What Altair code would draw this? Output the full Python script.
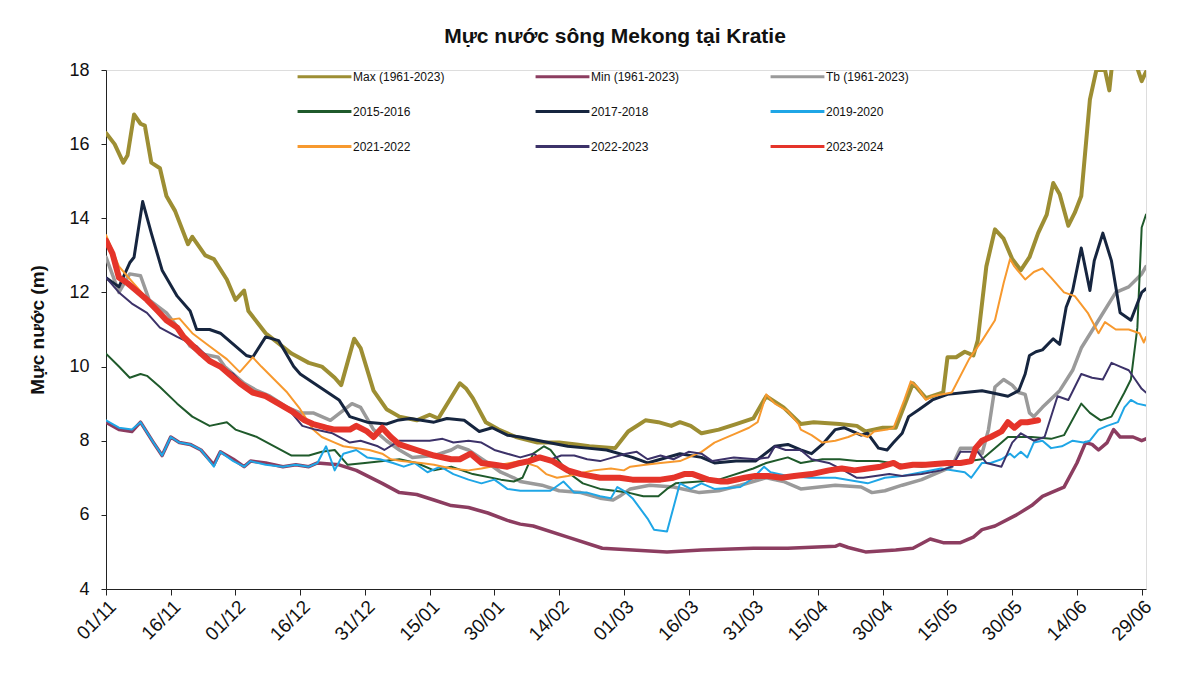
import altair as alt
import pandas as pd

# ---------------- data ----------------
# x = days since 01/11, y = water level (m)
SERIES = ["Max (1961-2023)", "Min (1961-2023)", "Tb (1961-2023)",
          "2015-2016", "2017-2018", "2019-2020",
          "2021-2022", "2022-2023", "2023-2024"]
COLORS = ["#9D8E33", "#8C3D60", "#9A9A9A",
          "#1F5A2B", "#16253F", "#1FA6E6",
          "#F7992E", "#3C3269", "#E5342A"]
WIDTHS = [4, 3.5, 3.5, 2, 3, 2, 2, 2, 6]

TICK_DAYS = [0, 15, 30, 45, 60, 75, 90, 105, 120, 135, 150, 165, 180, 195, 210, 225, 240]
TICK_LABELS = ["01/11", "16/11", "01/12", "16/12", "31/12", "15/01", "30/01", "14/02",
               "01/03", "16/03", "31/03", "15/04", "30/04", "15/05", "30/05", "14/06", "29/06"]

MAX_D = [0, 2, 4, 5, 6.5, 8, 9, 10.5, 12.5, 14, 16, 19, 20, 23, 25, 28, 30, 32, 33, 37, 43, 47, 50,
         53, 54.5, 57.5, 59, 62, 65, 68, 72, 75, 77, 82, 83.5, 85, 88, 91, 95, 100, 105, 109, 112,
         118, 121, 125, 128, 131, 133, 135.5, 138, 142, 146, 150, 153, 157, 161, 164, 170, 174,
         176, 180, 183, 187, 190, 194, 195, 197, 199, 201, 202, 204, 206, 208, 210, 212, 214,
         216, 218, 219.5, 221, 223, 224.5, 226, 228, 229.5, 231.5, 232.5, 233, 234, 238, 240, 241]
MAX_V = [16.3, 16.0, 15.5, 15.7, 16.8, 16.55, 16.5, 15.5, 15.35, 14.6, 14.2, 13.3, 13.5, 13.0,
         12.9, 12.35, 11.8, 12.05, 11.5, 10.9, 10.35, 10.1, 10.0, 9.7, 9.5, 10.75, 10.5, 9.35,
         8.85, 8.65, 8.55, 8.7, 8.6, 9.55, 9.4, 9.15, 8.5, 8.3, 8.1, 7.95, 7.95, 7.9, 7.85, 7.8,
         8.25, 8.55, 8.5, 8.4, 8.5, 8.4, 8.2, 8.3, 8.45, 8.6, 9.2, 8.9, 8.45, 8.5, 8.45, 8.4,
         8.25, 8.35, 8.35, 9.55, 9.15, 9.3, 10.25, 10.25, 10.4, 10.3, 10.7, 12.7, 13.7, 13.45,
         12.9, 12.6, 12.95, 13.6, 14.1, 14.95, 14.65, 13.8, 14.15, 14.6, 17.2, 18.0, 18.0, 17.45,
         18.0, 18.6, 18.4, 17.7, 17.95]

MIN_D = [0, 3, 6, 8, 11, 13, 15, 17, 19.5, 22, 25, 26.5, 29.5, 32, 33.5, 37, 41, 44, 47, 49, 54,
         58, 64, 68, 72, 76, 80, 84, 88.5, 93, 96, 99, 107, 115, 122, 130, 138, 150, 158, 169,
         170, 172, 176, 183, 187, 191, 194, 198, 201, 203, 206, 211, 214.5, 217, 219, 222, 225,
         227, 228.5, 230, 232, 233.5, 235, 238, 240, 241]
MIN_V = [8.5, 8.3, 8.25, 8.5, 7.95, 7.6, 8.1, 7.95, 7.9, 7.75, 7.35, 7.7, 7.5, 7.3, 7.45, 7.4,
         7.3, 7.35, 7.3, 7.4, 7.35, 7.2, 6.85, 6.6, 6.55, 6.4, 6.25, 6.2, 6.05, 5.85, 5.75, 5.7,
         5.4, 5.1, 5.05, 5.0, 5.05, 5.1, 5.1, 5.15, 5.2, 5.12, 5.0, 5.05, 5.1, 5.35, 5.25, 5.25,
         5.4, 5.6, 5.7, 6.0, 6.25, 6.5, 6.6, 6.75, 7.4, 7.95, 7.9, 7.75, 7.95, 8.3, 8.1, 8.1,
         8.0, 8.05]

TB_D = [0, 3, 5.5, 8, 10, 14, 17, 19.5, 22, 26, 27.5, 29.5, 32, 35, 38, 42, 45, 48, 52, 57, 59,
        62, 65, 68, 71, 76, 80, 81.5, 84, 88.5, 91.5, 94.5, 96, 101, 105, 110, 114.5, 117.5, 119,
        121.5, 126, 131.5, 137.5, 142, 147, 150, 153, 157, 161, 169, 175, 177.5, 180.5, 184.5,
        189, 194, 196, 198, 201.5, 203, 204.5, 206, 208, 210, 211.5, 213, 214, 215, 217, 221,
        224, 226, 230, 234, 237, 240, 241]
TB_V = [12.95, 12.0, 12.5, 12.45, 11.8, 11.45, 11.0, 10.55, 10.35, 10.25, 10.0, 9.8, 9.55, 9.35,
        9.2, 8.9, 8.75, 8.75, 8.55, 9.0, 8.9, 8.3, 8.0, 7.75, 7.55, 7.6, 7.75, 7.85, 7.75, 7.4,
        7.15, 7.0, 6.9, 6.8, 6.65, 6.6, 6.45, 6.4, 6.5, 6.7, 6.8, 6.75, 6.6, 6.65, 6.8, 6.9, 7.0,
        6.9, 6.7, 6.8, 6.75, 6.6, 6.65, 6.8, 6.95, 7.2, 7.3, 7.8, 7.8, 7.65, 8.3, 9.45, 9.65,
        9.5, 9.3, 9.25, 8.75, 8.65, 8.9, 9.35, 9.9, 10.5, 11.25, 12.0, 12.15, 12.5, 12.7]

Y1516_D = [0, 3, 5.5, 8, 9.5, 12.5, 16.5, 20, 24, 28, 30, 35, 39, 43, 47, 50, 53, 56, 60, 68, 72,
           76, 80, 85, 91.5, 94.5, 96.5, 99, 101.5, 103, 107, 110.5, 114.5, 121, 124.5, 128, 130,
           132, 137.5, 142, 150, 153, 158, 161, 166, 170, 174, 179, 184.5, 189, 195, 200, 203,
           207, 209, 214.5, 219, 222, 226, 228, 230.5, 233, 236, 237.5, 239, 240, 241]
Y1516_V = [10.35, 10.0, 9.7, 9.8, 9.75, 9.45, 9.0, 8.65, 8.4, 8.5, 8.3, 8.1, 7.85, 7.6, 7.6, 7.7,
           7.75, 7.35, 7.4, 7.5, 7.4, 7.2, 7.3, 7.1, 6.95, 6.9, 7.0, 7.65, 7.85, 7.75, 7.15, 6.85,
           6.7, 6.6, 6.5, 6.5, 6.7, 6.85, 6.9, 6.95, 7.25, 7.4, 7.55, 7.4, 7.5, 7.5, 7.45, 7.45,
           7.35, 7.3, 7.4, 7.45, 7.5, 7.9, 8.1, 8.1, 8.05, 8.15, 9.0, 8.75, 8.55, 8.65, 9.3, 9.65,
           11.05, 13.75, 14.1]

Y1718_D = [0, 3, 5.5, 6.5, 8.5, 10.5, 13, 16.5, 19.5, 21, 24, 26.5, 32.5, 34, 37, 40, 43.5, 45,
           49.5, 54, 56.5, 60.5, 65, 67.5, 70.5, 76, 79, 83, 86.5, 89.5, 93, 96, 107, 111.5, 116,
           122, 125.5, 133, 138, 141, 146, 150.5, 155, 158, 161, 163.5, 166, 169, 171, 175, 176.5,
           179, 181, 182.5, 184.5, 186, 188.5, 191.5, 195, 199, 203, 205, 209, 211.5, 213, 214,
           215.5, 217, 219.5, 221, 222.5, 224, 226, 228, 229, 231, 233, 235, 237.5, 239, 240, 241]
Y1718_V = [12.4, 12.15, 12.8, 12.95, 14.45, 13.6, 12.6, 11.9, 11.5, 11.0, 11.0, 10.9, 10.3, 10.25,
           10.8, 10.7, 10.0, 9.8, 9.45, 9.1, 8.65, 8.5, 8.45, 8.55, 8.6, 8.5, 8.6, 8.55, 8.25,
           8.35, 8.15, 8.1, 7.85, 7.8, 7.75, 7.55, 7.4, 7.65, 7.55, 7.4, 7.45, 7.45, 7.85, 7.9,
           7.75, 7.65, 7.9, 8.3, 8.35, 8.15, 8.2, 7.8, 7.75, 7.95, 8.2, 8.65, 8.85, 9.1, 9.25, 9.3,
           9.35, 9.3, 9.2, 9.35, 9.8, 10.3, 10.4, 10.45, 10.75, 10.6, 11.6, 12.05, 13.2, 12.05,
           12.85, 13.6, 12.85, 11.45, 11.25, 11.7, 12.0, 12.1]

Y1920_D = [0, 3, 6, 8, 11, 13, 15, 17, 19.5, 22, 25, 26.5, 29.5, 32, 33.5, 37, 41, 44, 47, 49, 51,
           53, 55, 58, 60.5, 63.5, 66.5, 69, 71.5, 74.5, 77.5, 80.5, 84, 87, 90, 93, 96, 99, 103,
           106, 108.5, 111.5, 114.5, 117, 118.5, 120, 122, 125.5, 127, 130, 131.5, 133, 135.5,
           138, 141, 147, 150, 152.5, 154, 158, 163, 169, 176.5, 180.5, 184.5, 189, 193.5, 199,
           200.5, 203, 205, 207.5, 209.5, 210.5, 212, 213.5, 215, 217, 219, 221.5, 224, 226.5,
           228, 230, 232, 234.5, 236, 237.5, 239, 241]
Y1920_V = [8.55, 8.35, 8.3, 8.5, 7.95, 7.6, 8.1, 7.95, 7.9, 7.75, 7.3, 7.7, 7.45, 7.3, 7.45, 7.35,
           7.3, 7.35, 7.3, 7.4, 7.85, 7.2, 7.65, 7.75, 7.55, 7.5, 7.4, 7.3, 7.4, 7.15, 7.3, 7.1,
           6.95, 6.85, 6.95, 6.7, 6.65, 6.65, 6.65, 6.9, 6.6, 6.6, 6.5, 6.45, 6.75, 6.65, 6.45,
           5.9, 5.6, 5.55, 6.2, 6.85, 6.7, 6.85, 6.7, 6.75, 7.0, 7.3, 7.15, 7.05, 7.0, 7.0, 6.85,
           7.0, 7.05, 7.15, 7.25, 7.15, 7.0, 7.4, 7.4, 7.5, 7.65, 7.55, 7.7, 7.55, 7.95, 8.0, 7.8,
           7.85, 8.0, 7.95, 8.0, 8.3, 8.4, 8.5, 8.9, 9.1, 9.0, 8.95]

Y2122_D = [0, 3, 6, 9, 12, 14, 17, 20, 24, 28, 31, 34, 36, 39, 42, 45, 48, 50, 53, 55, 61, 64, 66,
           68.5, 73, 76, 80, 84, 87, 91.5, 96, 100, 102, 104.5, 107, 113, 117, 120, 121.5, 125,
           128.5, 133, 138, 141, 143, 146, 149, 151, 153, 155, 158, 160.5, 161, 163.5, 166, 169,
           172, 174, 176.5, 178, 181, 182.5, 185, 186.5, 188, 190, 191.5, 196, 200, 203, 206, 208,
           209.5, 210.5, 213, 215, 217, 219, 222, 224.5, 227.5, 230, 231.5, 234, 237, 239.5,
           240.5, 241]
Y2122_V = [13.55, 12.7, 12.3, 11.9, 11.5, 11.25, 11.3, 10.9, 10.55, 10.2, 9.85, 10.25, 10.0, 9.65,
           9.3, 8.85, 8.3, 8.1, 7.95, 7.85, 7.75, 7.65, 7.5, 7.45, 7.4, 7.35, 7.25, 7.2, 7.25,
           7.35, 7.45, 7.3, 7.1, 7.0, 7.05, 7.2, 7.25, 7.2, 7.3, 7.35, 7.4, 7.45, 7.7, 7.95, 8.05,
           8.2, 8.35, 8.5, 9.25, 9.0, 8.8, 8.45, 8.3, 8.15, 7.95, 8.0, 8.1, 8.2, 8.1, 8.25, 8.3,
           8.35, 9.1, 9.6, 9.45, 9.1, 9.2, 9.3, 10.2, 10.7, 11.25, 12.25, 12.9, 12.7, 12.35,
           12.55, 12.65, 12.4, 12.0, 11.9, 11.45, 10.9, 11.2, 11.0, 11.0, 10.9, 10.65, 10.8]

Y2223_D = [0, 3, 6, 9.5, 12.5, 16.5, 21, 25, 29.5, 33.5, 37, 40, 43, 45.5, 48.5, 52.5, 56.5, 59,
           63, 64.5, 68, 75, 78, 80.5, 84, 87, 90, 93, 96, 99, 102, 105.5, 108.5, 111.5, 114.5,
           117.5, 120.5, 123, 125.5, 128.5, 131.5, 135, 138, 140.5, 145.5, 150.5, 153.5, 155,
           157.5, 161, 163.5, 167.5, 171, 174, 175.5, 181.5, 184.5, 189, 193.5, 196, 198, 202,
           204, 207.5, 210, 212, 215, 217.5, 220.5, 223, 226, 228.5, 231, 233, 235, 237, 238.5,
           240, 241]
Y2223_V = [12.4, 12.0, 11.7, 11.45, 11.05, 10.8, 10.55, 10.1, 9.8, 9.3, 9.2, 9.0, 8.75, 8.4, 8.3,
           8.2, 7.95, 8.0, 7.85, 7.75, 8.0, 8.0, 8.05, 7.95, 8.0, 7.95, 7.75, 7.65, 7.55, 7.65,
           7.45, 7.6, 7.6, 7.5, 7.45, 7.55, 7.65, 7.7, 7.5, 7.6, 7.5, 7.7, 7.65, 7.45, 7.55, 7.5,
           7.55, 7.85, 7.75, 7.75, 7.5, 7.4, 7.2, 7.0, 7.0, 7.1, 7.05, 7.1, 7.2, 7.3, 7.7, 7.7,
           7.4, 7.3, 7.95, 8.2, 8.0, 8.1, 9.2, 9.1, 9.8, 9.7, 9.65, 10.1, 10.0, 9.9, 9.65, 9.4, 9.3]

Y2324_D = [0, 1.5, 3, 5, 7, 9.5, 12, 14, 16.5, 18, 22, 24, 26.5, 31, 34, 37, 40, 43, 46, 48, 51,
           53, 56.5, 58, 60.5, 62, 64, 66, 68, 72, 76, 80, 82, 84.5, 87, 90, 93, 96, 98, 100.5,
           103.5, 107, 110, 114.5, 119, 122, 128.5, 131.5, 134, 136, 139.5, 142.5, 144, 148,
           150.5, 153.5, 156.5, 159.5, 163.5, 167.5, 170.5, 173.5, 176.5, 179.5, 182.5, 184, 187,
           190, 195, 198, 200.5, 201.5, 203, 205, 207.5, 209, 210.5, 212, 213.5, 216]
Y2324_V = [13.4, 13.05, 12.4, 12.25, 12.05, 11.8, 11.5, 11.25, 11.05, 10.8, 10.35, 10.15, 10.0,
           9.55, 9.3, 9.2, 9.0, 8.8, 8.55, 8.45, 8.35, 8.3, 8.3, 8.4, 8.25, 8.1, 8.35, 8.1, 7.9,
           7.75, 7.6, 7.5, 7.5, 7.65, 7.4, 7.35, 7.3, 7.4, 7.45, 7.55, 7.45, 7.2, 7.1, 7.0, 7.0,
           6.95, 6.95, 7.0, 7.1, 7.1, 6.95, 6.9, 6.9, 7.0, 7.05, 7.05, 7.0, 7.05, 7.1, 7.2, 7.25,
           7.2, 7.25, 7.3, 7.4, 7.3, 7.35, 7.35, 7.4, 7.4, 7.45, 7.8, 8.0, 8.1, 8.25, 8.5, 8.35,
           8.5, 8.5, 8.55]

SOURCES = [(MAX_D, MAX_V), (MIN_D, MIN_V), (TB_D, TB_V), (Y1516_D, Y1516_V),
           (Y1718_D, Y1718_V), (Y1920_D, Y1920_V), (Y2122_D, Y2122_V),
           (Y2223_D, Y2223_V), (Y2324_D, Y2324_V)]

rows = []
for name, (dd, vv) in zip(SERIES, SOURCES):
    for d, v in zip(dd, vv):
        rows.append({"series": name, "day": d, "level": v})
df = pd.DataFrame(rows)

FONT = "Liberation Sans Narrow, Arial Narrow, Liberation Sans, Arial, sans-serif"
label_expr = "[" + ",".join("'%s'" % t for t in TICK_LABELS) + "][round(datum.value/15)]"

x_enc = alt.X("day:Q",
              scale=alt.Scale(domain=[0, 241], nice=False, zero=False),
              axis=alt.Axis(values=TICK_DAYS, labelExpr=label_expr, title=None,
                            labelAngle=-45, labelFontSize=19, labelFont=FONT,
                            labelPadding=2, tickSize=6, grid=False,
                            domainColor="#222222", tickColor="#222222", labelColor="#111111"))
y_enc = alt.Y("level:Q",
              scale=alt.Scale(domain=[4, 18], nice=False, zero=False),
              axis=alt.Axis(values=[4, 6, 8, 10, 12, 14, 16, 18], title="Mực nước (m)",
                            titleFontSize=19, titleFont="Liberation Sans, Arial, sans-serif",
                            titleFontWeight="bold", titlePadding=21, titleColor="#111111",
                            labelFontSize=18, labelFont=FONT, labelPadding=12, tickSize=5,
                            grid=False, domainColor="#222222", tickColor="#222222",
                            labelColor="#111111"))
color_enc = alt.Color("series:N",
                      scale=alt.Scale(domain=SERIES, range=COLORS),
                      sort=SERIES,
                      legend=alt.Legend(title=None, orient="none", legendX=190, legendY=-22,
                                        columns=3, symbolType="stroke", symbolSize=2900,
                                        symbolStrokeWidth=3, labelFontSize=12, labelFont=FONT,
                                        labelColor="#111111", labelOffset=0, columnPadding=84,
                                        rowPadding=-5, direction="horizontal"))

layers = []
for name, w in zip(SERIES, WIDTHS):
    layers.append(
        alt.Chart(df).transform_filter(alt.datum.series == name)
        .mark_line(clip=True, strokeJoin="round", strokeCap="round", strokeWidth=w)
        .encode(x=x_enc, y=y_enc, color=color_enc)
    )

chart = alt.layer(*layers).properties(
    width=1040,
    height=519,
    title=alt.TitleParams("Mực nước sông Mekong tại Kratie", fontSize=21,
                          font="Liberation Sans Narrow, Liberation Sans, Arial, sans-serif",
                          fontWeight="bold", color="#111111", offset=1, dx=-11),
    autosize=alt.AutoSizeParams(type="none"),
    padding={"left": 98, "top": 62, "right": 40, "bottom": 100},
).configure_view(stroke=None).configure(background="white")

chart.save("out.html", embed_options={"renderer": "svg", "actions": False})
